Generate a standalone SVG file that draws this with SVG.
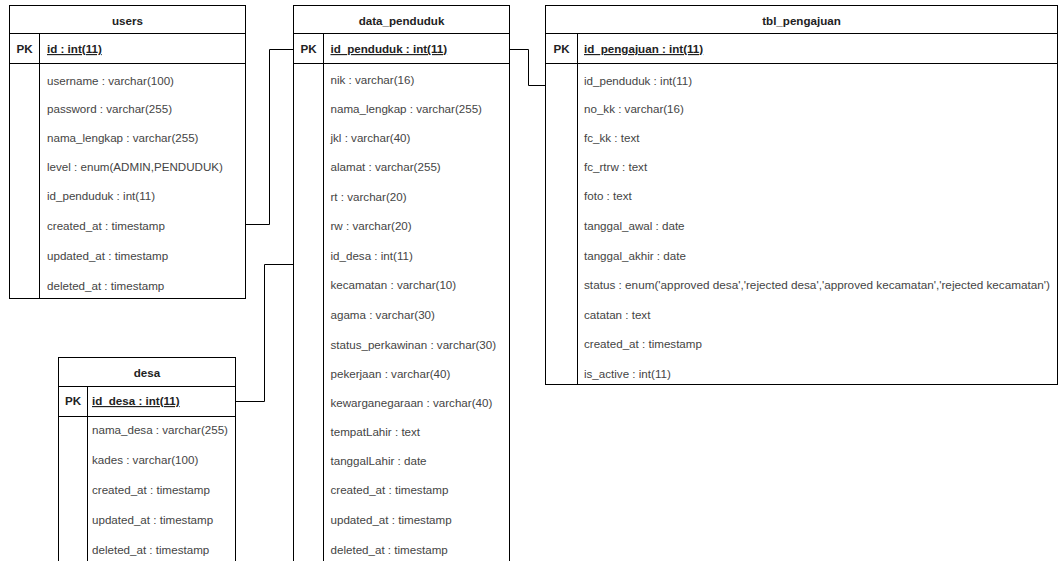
<svg xmlns="http://www.w3.org/2000/svg" width="1059" height="561" viewBox="0 0 1059 561">
<style>
.box{fill:#fff;stroke:#000;stroke-width:1}
.ln{stroke:#000;stroke-width:1;fill:none}
.hd{font-family:"Liberation Sans",Arial,sans-serif;font-size:11.6px;font-weight:bold;fill:#222;text-anchor:middle}
.pk{font-family:"Liberation Sans",Arial,sans-serif;font-size:11.6px;font-weight:bold;fill:#222;text-anchor:middle}
.pkf{font-family:"Liberation Sans",Arial,sans-serif;font-size:11.6px;font-weight:bold;fill:#222;text-decoration:underline}
.f{font-family:"Liberation Sans",Arial,sans-serif;font-size:11.6px;fill:#444}
.conn{stroke:#000;stroke-width:1;fill:none}
</style>
<rect width="1059" height="561" fill="#fff"/>

<g id="connectors">
<polyline class="conn" points="245.5,224.5 269.5,224.5 269.5,49.5 293.5,49.5"/>
<polyline class="conn" points="235.5,401.5 264.5,401.5 264.5,264.5 293.5,264.5"/>
<polyline class="conn" points="509.5,49.5 528.5,49.5 528.5,85.5 545.5,85.5"/>
</g>

<g id="users">
<rect class="box" x="9.5" y="5.5" width="236" height="293"/>
<line class="ln" x1="9.5" y1="33.5" x2="245.5" y2="33.5"/>
<line class="ln" x1="9.5" y1="63.5" x2="245.5" y2="63.5"/>
<line class="ln" x1="39.5" y1="33.5" x2="39.5" y2="298.5"/>
<text class="hd" x="127.5" y="24.5">users</text>
<text class="pk" x="24.5" y="53">PK</text>
<text class="pkf" x="47" y="53">id : int(11)</text>
<text class="f" x="47" y="85">username : varchar(100)</text>
<text class="f" x="47" y="113">password : varchar(255)</text>
<text class="f" x="47" y="141.5">nama_lengkap : varchar(255)</text>
<text class="f" x="47" y="171">level : enum(ADMIN,PENDUDUK)</text>
<text class="f" x="47" y="200">id_penduduk : int(11)</text>
<text class="f" x="47" y="230">created_at : timestamp</text>
<text class="f" x="47" y="260">updated_at : timestamp</text>
<text class="f" x="47" y="290">deleted_at : timestamp</text>
</g>

<g id="data_penduduk">
<rect class="box" x="293.5" y="5.5" width="216" height="600"/>
<line class="ln" x1="293.5" y1="33.5" x2="509.5" y2="33.5"/>
<line class="ln" x1="293.5" y1="63.5" x2="509.5" y2="63.5"/>
<line class="ln" x1="323.5" y1="33.5" x2="323.5" y2="605"/>
<text class="hd" x="401.5" y="24.5">data_penduduk</text>
<text class="pk" x="308.5" y="53">PK</text>
<text class="pkf" x="330.5" y="53">id_penduduk : int(11)</text>
<text class="f" x="330.5" y="84">nik : varchar(16)</text>
<text class="f" x="330.5" y="113">nama_lengkap : varchar(255)</text>
<text class="f" x="330.5" y="141.5">jkl : varchar(40)</text>
<text class="f" x="330.5" y="171">alamat : varchar(255)</text>
<text class="f" x="330.5" y="200.5">rt : varchar(20)</text>
<text class="f" x="330.5" y="230">rw : varchar(20)</text>
<text class="f" x="330.5" y="259.5">id_desa : int(11)</text>
<text class="f" x="330.5" y="289">kecamatan : varchar(10)</text>
<text class="f" x="330.5" y="318.5">agama : varchar(30)</text>
<text class="f" x="330.5" y="348.5">status_perkawinan : varchar(30)</text>
<text class="f" x="330.5" y="377.5">pekerjaan : varchar(40)</text>
<text class="f" x="330.5" y="406.5">kewarganegaraan : varchar(40)</text>
<text class="f" x="330.5" y="435.5">tempatLahir : text</text>
<text class="f" x="330.5" y="464.5">tanggalLahir : date</text>
<text class="f" x="330.5" y="494">created_at : timestamp</text>
<text class="f" x="330.5" y="524">updated_at : timestamp</text>
<text class="f" x="330.5" y="553.5">deleted_at : timestamp</text>
</g>

<g id="tbl_pengajuan">
<rect class="box" x="545.5" y="5.5" width="512" height="379"/>
<line class="ln" x1="545.5" y1="33.5" x2="1057.5" y2="33.5"/>
<line class="ln" x1="545.5" y1="63.5" x2="1057.5" y2="63.5"/>
<line class="ln" x1="577.5" y1="33.5" x2="577.5" y2="384.5"/>
<text class="hd" x="801.5" y="24.5">tbl_pengajuan</text>
<text class="pk" x="561.5" y="53">PK</text>
<text class="pkf" x="584" y="53">id_pengajuan : int(11)</text>
<text class="f" x="584" y="84.5">id_penduduk : int(11)</text>
<text class="f" x="584" y="113">no_kk : varchar(16)</text>
<text class="f" x="584" y="141.5">fc_kk : text</text>
<text class="f" x="584" y="171">fc_rtrw : text</text>
<text class="f" x="584" y="200">foto : text</text>
<text class="f" x="584" y="230">tanggal_awal : date</text>
<text class="f" x="584" y="259.5">tanggal_akhir : date</text>
<text class="f" x="584" y="289" textLength="466" lengthAdjust="spacingAndGlyphs">status : enum('approved desa','rejected desa','approved kecamatan','rejected kecamatan')</text>
<text class="f" x="584" y="318.5">catatan : text</text>
<text class="f" x="584" y="348">created_at : timestamp</text>
<text class="f" x="584" y="377.5">is_active : int(11)</text>
</g>

<g id="desa">
<rect class="box" x="58.5" y="357.5" width="177" height="250"/>
<line class="ln" x1="58.5" y1="386.5" x2="235.5" y2="386.5"/>
<line class="ln" x1="58.5" y1="416.5" x2="235.5" y2="416.5"/>
<line class="ln" x1="87.5" y1="386.5" x2="87.5" y2="607.5"/>
<text class="hd" x="147" y="377">desa</text>
<text class="pk" x="73" y="405">PK</text>
<text class="pkf" x="92" y="405">id_desa : int(11)</text>
<text class="f" x="92" y="434">nama_desa : varchar(255)</text>
<text class="f" x="92" y="463.5">kades : varchar(100)</text>
<text class="f" x="92" y="493.5">created_at : timestamp</text>
<text class="f" x="92" y="524">updated_at : timestamp</text>
<text class="f" x="92" y="553.5">deleted_at : timestamp</text>
</g>
</svg>
